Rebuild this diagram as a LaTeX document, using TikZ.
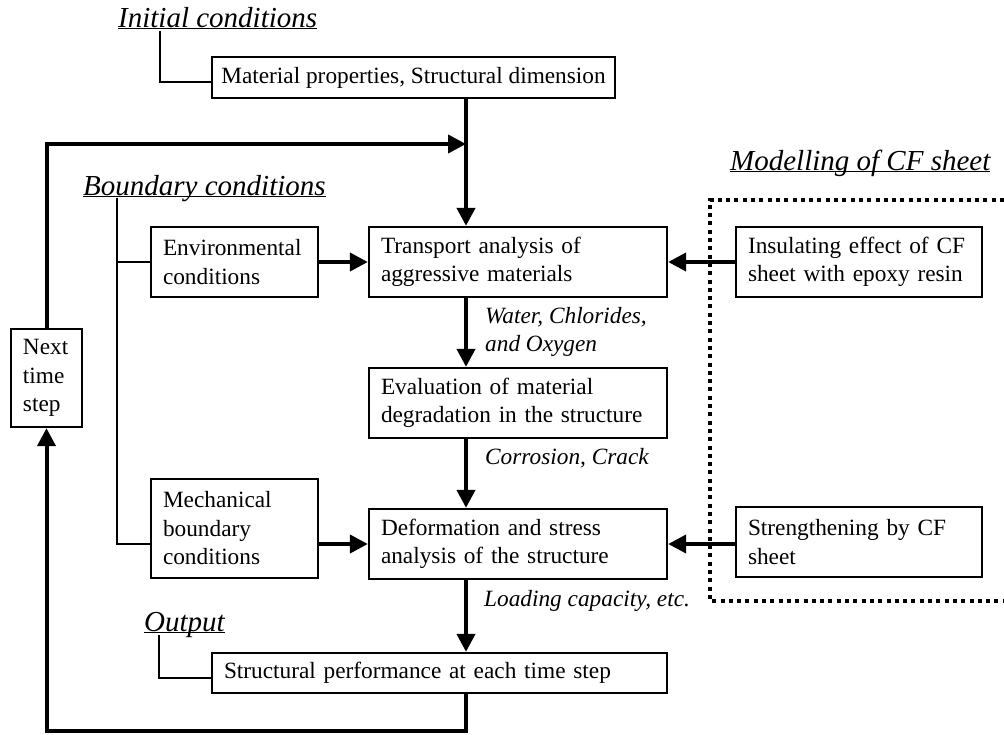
\documentclass[tikz,border=0pt]{standalone}
\usepackage{fontspec}
\setmainfont{Liberation Serif}
\usetikzlibrary{arrows.meta}
\newcommand\boxfont{\fontsize{23.3}{28.5}\selectfont}
\newcommand\hdrfont{\fontsize{29}{34}\selectfont\itshape}
\newcommand\lblfont{\fontsize{23.3}{28.5}\selectfont\itshape}
\newcommand\ulhead[1]{\underline{\smash{#1}}}
\begin{document}
\begin{tikzpicture}[x=1pt,y=-1pt,
  box/.style={draw, line width=2.3pt, inner xsep=12pt, inner ysep=0pt, align=left, font=\boxfont},
  flow/.style={line width=4pt, -{Triangle[length=18pt,width=18pt]}},
  bracket/.style={line width=2pt},
  head/.style={inner sep=0pt, anchor=base west, font=\hdrfont},
  lbl/.style={inner sep=0pt, font=\lblfont},
  cfframe/.style={line width=4pt, dash pattern=on 4pt off 4.3pt}
]
\useasboundingbox (0,0) rectangle (1004,734);

% boxes
\node[draw, line width=2.3pt, inner xsep=8pt, inner ysep=0pt, font=\boxfont, minimum width=403pt, minimum height=41pt] (matprop) at (413.5,77.5) {Material properties, Structural dimension};
\node[box, text width=143pt, minimum height=70pt] (env) at (234.5,262) {Environmental\\conditions};
\node[box, text width=274pt, minimum height=70pt] (trans) at (518,262) {Transport analysis of\\aggressive materials};
\node[box, text width=222pt, minimum height=70pt] (insul) at (859,262) {Insulating effect of CF\\sheet with epoxy resin};
\node[box, text width=274pt, minimum height=70pt] (eval) at (518,403) {Evaluation of material\\degradation in the structure};
\node[box, text width=143pt, minimum height=99pt] (mech) at (234.5,528.5) {Mechanical\\boundary\\conditions};
\node[box, text width=274pt, minimum height=70pt] (deform) at (518,544) {Deformation and stress\\analysis of the structure};
\node[box, text width=222pt, minimum height=70pt] (streng) at (859,542) {Strengthening by CF\\sheet};
\node[box, text width=431pt, minimum height=40pt] (struct) at (439.5,673) {Structural performance at each time step};
\node[box, text width=47pt, minimum height=98pt] (next) at (46.5,378) {Next\\time\\step};

% headings
\node[head] (hinit) at (118,27) {\ulhead{Initial conditions}};
\node[head] (hbound) at (83,195) {\ulhead{Boundary conditions}};
\node[head] (hcf) at (730,170) {\ulhead{Modelling of CF sheet}};
\node[head] (hout) at (144,631) {\ulhead{Output}};

% labels
\node[lbl, align=left, anchor=north west] (lwater) at (485,307) {Water, Chlorides,\\and Oxygen};
\node[lbl, anchor=base west] (lcorr) at (485,464) {Corrosion, Crack};
\node[lbl, anchor=base west] (lload) at (484,606) {Loading capacity, etc.};

% CF sheet frame
\draw[cfframe] (1004,200) -- (710,200) -- (710,601) -- (1004,601);

% coordinates
\coordinate (join) at (466,144);
\coordinate (bl) at (46.5,731);
\coordinate (bi) at (160,31);
\coordinate (bb) at (117,198);
\coordinate (bo) at (159,635);

% brackets
\draw[bracket] (bi) |- ([yshift=-4.5pt]matprop.west);
\draw[bracket] (bb) |- (mech.west |- deform.west);
\draw[bracket] (bb |- env.west) -- (env.west);
\draw[bracket] (bo) |- ([yshift=-5pt]struct.west);

% flow arrows
\draw[flow] (matprop.south -| join) -- (trans.north -| join);
\draw[flow] (next.north) |- (join);
\draw[flow] (env.east) -- (trans.west);
\draw[flow] (insul.west) -- (trans.east);
\draw[flow] (trans.south -| join) -- (eval.north -| join);
\draw[flow] (eval.south -| join) -- (deform.north -| join);
\draw[flow] (mech.east |- deform.west) -- (deform.west);
\draw[flow] (streng.west |- deform.east) -- (deform.east);
\draw[flow] (deform.south -| join) -- (struct.north -| join);
\draw[flow] (struct.south -| join) |- (bl) -- (next.south);
\end{tikzpicture}
\end{document}
